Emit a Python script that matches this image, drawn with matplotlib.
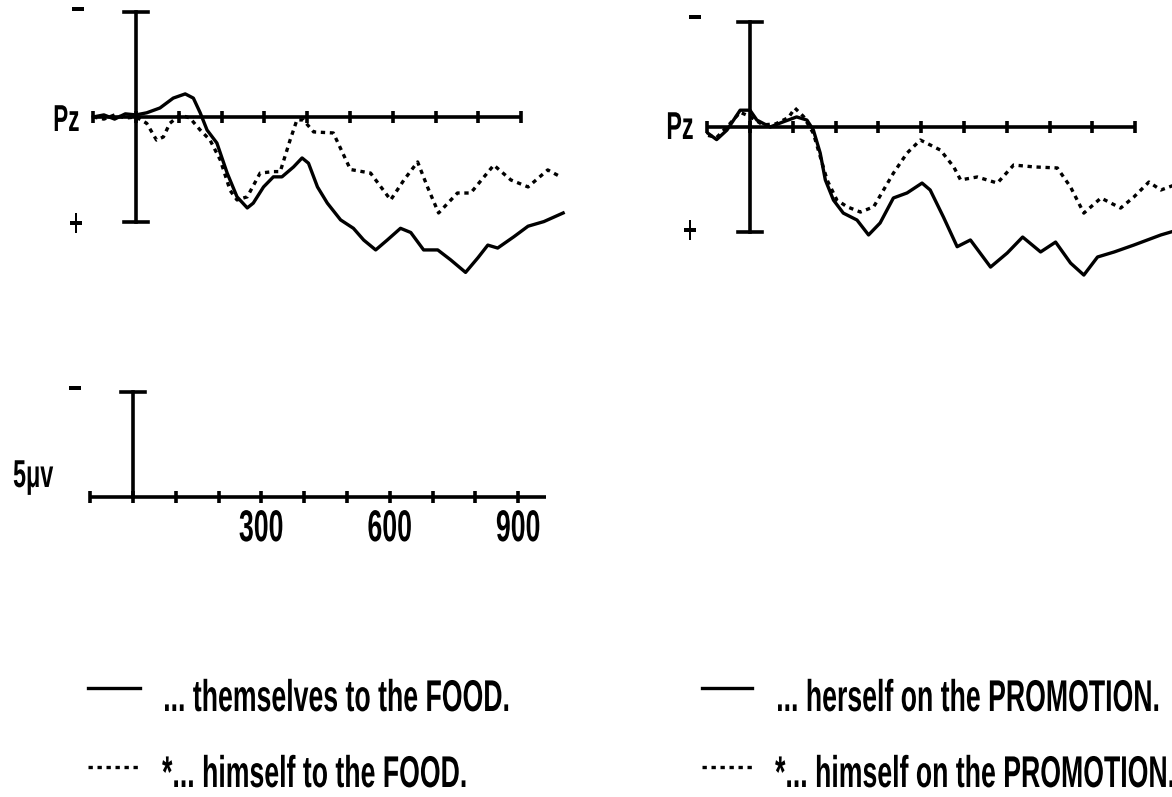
import matplotlib
matplotlib.use("Agg")
import matplotlib.pyplot as plt
from matplotlib.lines import Line2D
from matplotlib.patheffects import AbstractPathEffect
from matplotlib.transforms import Affine2D

# ---------------------------------------------------------------- data
# Grand-average ERP waveforms at Pz (time in ms, amplitude in microvolts;
# negative is plotted upward).
food_t_gram = [-100, -75, -50, -25, 0, 25, 56, 87, 115, 134, 150, 166, 189, 213, 236,
               260, 274, 298, 321, 341, 368, 388, 403, 424, 447, 478, 508, 532, 560,
               587, 618, 642, 672, 705, 735, 770, 799, 822, 845, 883, 916, 953, 998]
food_v_gram = [0, -0.1, 0.1, -0.15, -0.1, -0.2, -0.43, -0.9, -1.1, -0.9, -0.2, 0.62, 1.24,
               2.67, 3.8, 4.33, 4.1, 3.33, 2.85, 2.85, 2.38, 1.95, 2.2, 3.33, 4.1, 4.9,
               5.3, 5.86, 6.33, 5.86, 5.3, 5.5, 6.33, 6.33, 6.8, 7.4, 6.7, 6.1, 6.24, 5.7,
               5.2, 4.98, 4.57]

food_t_ungram = [-100, -75, -50, -25, 0, 25, 48, 64, 79, 103, 126, 150, 173, 197, 220, 236,
                 260, 290, 321, 337, 360, 376, 391, 415, 461, 501, 548, 595, 626, 658,
                 681, 707, 751, 782, 836, 876, 916, 962, 993]
food_v_ungram = [0, 0.1, -0.1, 0.05, 0, 0.3, 1.1, 0.95, 0.3, -0.1, 0.05, 0.62, 1.1, 2.05,
                 3.5, 3.95, 3.8, 2.67, 2.6, 2.6, 1.1, 0.14, 0.14, 0.71, 0.76, 2.5, 2.67,
                 3.95, 3.0, 2.14, 3.33, 4.57, 3.62, 3.62, 2.29, 3.0, 3.33, 2.52, 2.86]

promo_t_gram = [-98, -78, -54, -23, 0, 16, 47, 77, 109, 133, 148, 164, 176, 195, 218, 250,
                277, 304, 335, 367, 402, 421, 452, 484, 515, 562, 601, 637, 679, 714,
                749, 780, 812, 851, 897, 960, 1000]
promo_v_gram = [0.3, 0.6, 0.15, -0.8, -0.8, -0.33, 0, -0.24, -0.48, -0.33, 0.14, 1.24,
                2.52, 3.48, 4.1, 4.43, 5.14, 4.57, 3.38, 3.14, 2.67, 3.0, 4.29, 5.7, 5.38,
                6.67, 6.0, 5.24, 5.95, 5.48, 6.48, 7.05, 6.19, 5.95, 5.62, 5.14, 4.9]

promo_t_ungram = [-98, -78, -54, -23, 0, 30, 60, 90, 105, 125, 148, 164, 180, 203, 227,
                  258, 289, 335, 367, 398, 445, 476, 492, 531, 578, 616, 663, 718, 749,
                  780, 820, 866, 897, 932, 960, 1000]
promo_v_ungram = [0.4, 0.5, 0.0, -0.7, -0.5, -0.1, -0.15, -0.45, -0.9, -0.5, 0.3, 1.4,
                  2.52, 3.48, 3.8, 4.05, 3.8, 2.2, 1.24, 0.62, 1.1, 1.9, 2.52, 2.38, 2.67,
                  1.81, 1.9, 1.95, 2.86, 4.1, 3.38, 3.86, 3.33, 2.62, 3.0, 2.7]

time_ticks = [0, 100, 200, 300, 400, 500, 600, 700, 800, 900]
time_labels = ["300", "600", "900"]
channel = "Pz"
scale_label = "5\u03bcv"
legend_food = ["... themselves to the FOOD.", "*... himself to the FOOD."]
legend_promo = ["... herself on the PROMOTION.", "*... himself on the PROMOTION."]

# ---------------------------------------------------------------- layout
W, H = 1172, 797
PX_MS = 0.428      # pixels per millisecond
PX_UV = 21.0       # pixels per microvolt
T_LO, T_HI = -150, 1050
V_LO, V_HI = -7, 9

FONT = ["Liberation Sans", "DejaVu Sans"]
SQUEEZE = 0.6      # condensed lettering
INK = "black"
LW_CURVE = 2.4
LW_AXIS = 2.6
DOTS = (1.3, 1.4)


class Condense(AbstractPathEffect):
    """Narrow the glyph outlines horizontally about one edge or the centre."""

    def __init__(self, sx, anchor="left"):
        super().__init__()
        self.sx = sx
        self.anchor = anchor

    def draw_path(self, renderer, gc, tpath, affine, rgbFace=None):
        bb = tpath.get_extents(affine)
        if self.anchor == "left":
            x0 = bb.x0
        elif self.anchor == "right":
            x0 = bb.x1
        else:
            x0 = 0.5 * (bb.x0 + bb.x1)
        squeeze = Affine2D().translate(-x0, 0).scale(self.sx, 1).translate(x0, 0)
        renderer.draw_path(gc, tpath, affine + squeeze, rgbFace)


fig = plt.figure(figsize=(W / 100, H / 100), dpi=100)
fig.patch.set_facecolor("white")


def make_panel(x0, y0):
    """Axes whose (0 ms, 0 uV) point lands on pixel (x0, y0)."""
    left = x0 + T_LO * PX_MS
    width = (T_HI - T_LO) * PX_MS
    bottom = y0 + V_HI * PX_UV
    height = (V_HI - V_LO) * PX_UV
    ax = fig.add_axes([left / W, 1 - bottom / H, width / W, height / H])
    ax.set_xlim(T_LO, T_HI)
    ax.set_ylim(V_HI, V_LO)          # negative up
    ax.axis("off")
    return ax


def label_style(size, ha, va):
    return dict(fontsize=size, family=FONT, weight="bold", ha=ha, va=va, color=INK,
                path_effects=[Condense(SQUEEZE, ha)])


def px_text(x, y, s, size, ha="center", va="center"):
    fig.text(x / W, 1 - y / H, s, **label_style(size, ha, va))


def draw_axes(ax, t_start, t_end, bar_lo=-5, bar_hi=5):
    ax.plot([t_start, t_end], [0, 0], color=INK, lw=LW_AXIS, clip_on=False,
            solid_capstyle="butt")
    ax.plot([t_start] + time_ticks, [0] * (len(time_ticks) + 1), ls="none",
            marker="|", ms=8, mew=2.6, color=INK, clip_on=False)
    ax.plot([0, 0], [bar_lo, bar_hi], color=INK, lw=LW_AXIS, clip_on=False)
    cap = 28
    for v in (bar_lo, bar_hi):
        if v != 0:
            ax.plot([-cap, cap], [v, v], color=INK, lw=LW_AXIS, clip_on=False)


def draw_waves(ax, t1, v1, t2, v2):
    ax.plot(t1, v1, color=INK, lw=LW_CURVE, clip_on=False, solid_joinstyle="round")
    ax.plot(t2, v2, color=INK, lw=LW_CURVE, dashes=DOTS, clip_on=False)


MINUS = "\u2212"

# left: FOOD sentences
ax_food = make_panel(136, 117)
draw_axes(ax_food, -100, 900)
draw_waves(ax_food, food_t_gram, food_v_gram, food_t_ungram, food_v_ungram)
px_text(80, 131, channel, 27, ha="right", va="baseline")
px_text(78, 12, MINUS, 28)
px_text(76, 226, "+", 28)

# right: PROMOTION sentences
ax_promo = make_panel(750, 127)
draw_axes(ax_promo, -100, 900)
draw_waves(ax_promo, promo_t_gram, promo_v_gram, promo_t_ungram, promo_v_ungram)
px_text(694, 139, channel, 28, ha="right", va="baseline")
px_text(695, 20, MINUS, 28)
px_text(690, 233, "+", 28)

# calibration panel
ax_cal = make_panel(133, 497)
draw_axes(ax_cal, -100, 965, bar_lo=-5, bar_hi=0)
for lab in time_labels:
    ax_cal.text(float(lab), 2.1, lab, **label_style(32, "center", "baseline"))
px_text(33, 487, scale_label, 28, va="baseline")
px_text(75, 391, MINUS, 28)

# legend
legend_lines = [688, 767]
legend_base = [711, 787]
for x_line, x_text, labels in [((88, 140), 162, legend_food),
                               ((702, 752), 775, legend_promo)]:
    for row, lab in enumerate(labels):
        y = legend_lines[row]
        style = dict(color=INK, lw=LW_CURVE, transform=fig.transFigure)
        if row == 1:
            style["dashes"] = DOTS
        fig.add_artist(Line2D([x_line[0] / W, x_line[1] / W], [1 - y / H, 1 - y / H],
                              **style))
        px_text(x_text, legend_base[row], lab, 32, ha="left", va="baseline")

fig.savefig("out.png", dpi=100, facecolor="white")
